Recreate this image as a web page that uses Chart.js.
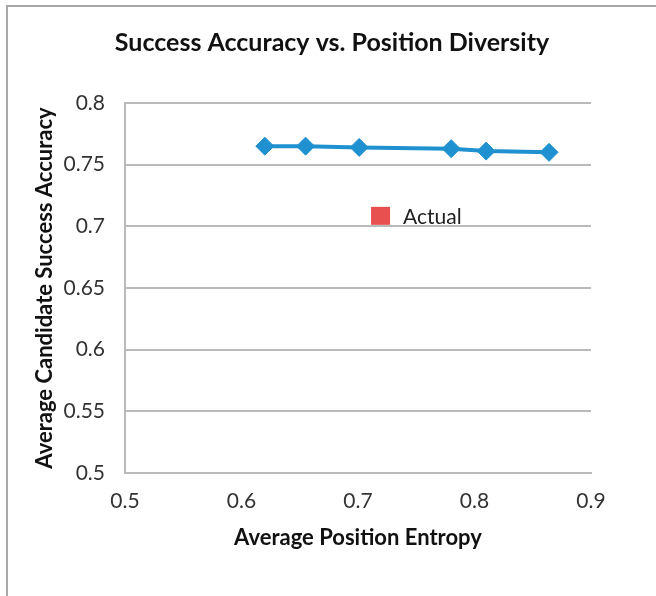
<!DOCTYPE html>
<html>
<head>
<meta charset="utf-8">
<script src="https://cdn.jsdelivr.net/npm/chart.js@4"></script>
<style>
  html, body { margin: 0; padding: 0; background: #fff; }
  #wrap { position: relative; width: 656px; height: 596px; overflow: hidden; }
  #frame { position: absolute; left: 6px; top: 5px; right: -10px; bottom: -10px;
           border-left: 2px solid #a8a8a8; border-top: 2px solid #a8a8a8; }
  canvas { position: absolute; left: 0; top: 0; }
</style>
</head>
<body>
<div id="wrap">
  <div id="frame"></div>
  <canvas id="chart" width="656" height="596"></canvas>
</div>
<script>
const entropy = [0.62, 0.655, 0.701, 0.78, 0.81, 0.864];
const accuracy = [0.765, 0.765, 0.764, 0.763, 0.761, 0.760];
const legendLabel = "Actual";
const chartTitle = "Success Accuracy vs. Position Diversity";
const xTitle = "Average Position Entropy";
const yTitle = "Average Candidate Success Accuracy";

const fontFamily = "Lato, 'Open Sans', sans-serif";
const gridColor = "#bababa";

// legend box drawn inside the plot, like the Excel original
const insideLegend = {
  id: "insideLegend",
  afterDraw(chart) {
    const ds = chart.data.datasets[1];
    const area = chart.chartArea;
    const ctx = chart.ctx;
    const x = area.left + area.width * 0.528;
    const y = area.top + area.height * 0.305;
    ctx.save();
    ctx.fillStyle = ds.backgroundColor;
    ctx.fillRect(x, y - 9, 19, 18);
    ctx.fillStyle = "#222";
    ctx.font = "21px " + fontFamily;
    ctx.textBaseline = "middle";
    ctx.fillText(ds.label, x + 32, y + 1);
    ctx.restore();
  },
};

new Chart(document.getElementById("chart"), {
  type: "scatter",
  plugins: [insideLegend],
  data: {
    datasets: [
      {
        label: "series",
        data: entropy.map((v, i) => ({ x: v, y: accuracy[i] })),
        showLine: true,
        borderColor: "#1f91d0",
        backgroundColor: "#1f91d0",
        borderWidth: 4,
        pointStyle: "rectRot",
        pointRadius: 9,
        pointBorderWidth: 1,
      },
      {
        label: legendLabel,
        data: [],
        backgroundColor: "#e8504f",
      },
    ],
  },
  options: {
    responsive: false,
    animation: false,
    layout: { padding: { left: 8, right: 0, top: 0, bottom: 0 } },
    plugins: {
      legend: { display: false },
      tooltip: { enabled: false },
      title: {
        display: true,
        text: chartTitle,
        color: "#111",
        font: { family: fontFamily, size: 25, weight: "bold" },
        padding: { top: 28, bottom: 45 },
      },
    },
    scales: {
      x: {
        type: "linear",
        min: 0.5,
        max: 0.9,
        afterFit: (s) => { s.height = 123; },
        ticks: {
          stepSize: 0.1,
          padding: 16,
          color: "#333",
          font: { family: fontFamily, size: 21 },
        },
        grid: { display: false, drawTicks: false },
        border: { display: true, color: gridColor, width: 2 },
        title: {
          display: true,
          text: xTitle,
          color: "#111",
          font: { family: fontFamily, size: 22, weight: "bold" },
          padding: { top: 0, bottom: 45 },
        },
      },
      y: {
        min: 0.5,
        max: 0.8,
        afterFit: (s) => { s.width = 117; },
        ticks: {
          stepSize: 0.05,
          padding: 20,
          color: "#333",
          font: { family: fontFamily, size: 21 },
          callback: (v) => String(Number(v.toFixed(2))),
        },
        grid: { color: gridColor, lineWidth: 2, drawTicks: false },
        border: { display: true, color: gridColor, width: 2 },
        title: {
          display: true,
          text: yTitle,
          color: "#111",
          font: { family: fontFamily, size: 22, weight: "bold" },
          padding: { top: 24, bottom: 0 },
        },
      },
      // empty right-hand spacer so the title centres on the whole chart
      spacer: {
        type: "linear",
        position: "right",
        afterFit: (s) => { s.width = 65; },
        ticks: { display: false },
        grid: { display: false, drawTicks: false },
        border: { display: false },
      },
    },
  },
});
</script>
</body>
</html>
